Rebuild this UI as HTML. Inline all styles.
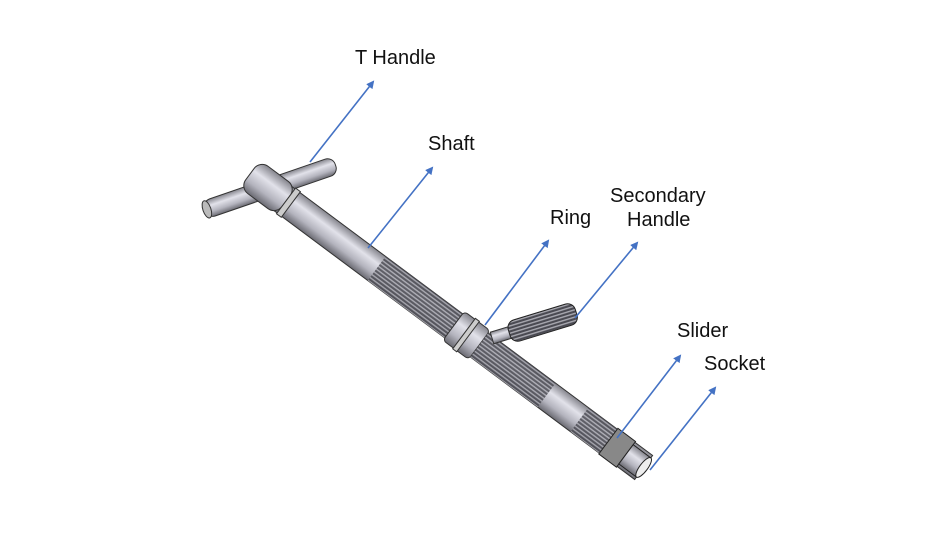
<!DOCTYPE html>
<html><head><style>
body{margin:0;background:#fff;}
svg text{font-family:"Liberation Sans",sans-serif;font-size:20px;fill:#111;}
</style></head><body>
<svg width="939" height="528" viewBox="0 0 939 528" xmlns="http://www.w3.org/2000/svg">
<defs>
<linearGradient id="g" x1="0" y1="0" x2="0" y2="1">
<stop offset="0" stop-color="#85858d"/><stop offset="0.35" stop-color="#e2e2ea"/><stop offset="0.7" stop-color="#b4b4be"/><stop offset="1" stop-color="#6a6a72"/>
</linearGradient>
<pattern id="k" width="3" height="3.5" patternUnits="userSpaceOnUse">
<rect width="3" height="3.5" fill="#4a4a52"/><rect y="0" width="3" height="1.4" fill="#a8a8b0"/>
</pattern>
<marker id="a" markerWidth="8" markerHeight="8" refX="6" refY="4" orient="auto" markerUnits="userSpaceOnUse"><path d="M0,0 L8,4 L0,8 z" fill="#4472C4"/></marker>
</defs>
<g transform="translate(205,210) rotate(-19)">
<rect x="0" y="-9" width="138" height="18" rx="8" fill="url(#g)" stroke="#333" stroke-width="1"/>
<ellipse cx="2" cy="0" rx="4" ry="9" fill="#bbb" stroke="#333"/>
</g>
<g transform="translate(262,183) rotate(36.7)">
<rect x="0" y="-15" width="476" height="30" fill="url(#g)" stroke="#333" stroke-width="1"/>
<rect x="-15" y="-17" width="45" height="34" rx="10" fill="url(#g)" stroke="#333"/>
<rect x="30" y="-16" width="6" height="32" fill="#ccc" stroke="#333"/>
<rect x="143" y="-15" width="96" height="30" fill="url(#k)" opacity="0.85"/>
<rect x="239" y="-18" width="32" height="36" rx="4" fill="url(#g)" stroke="#333"/>
<rect x="252" y="-19" width="5" height="38" fill="#ccc" stroke="#333"/>
<rect x="271" y="-15" width="84" height="30" fill="url(#k)" opacity="0.85"/>
<rect x="396" y="-15" width="36" height="30" fill="url(#k)" opacity="0.85"/>
<rect x="432" y="-16" width="22" height="32" fill="#888" stroke="#222"/>
<rect x="454" y="-12" width="22" height="24" fill="url(#g)" stroke="#222"/>
<ellipse cx="476" cy="0" rx="4" ry="12" fill="#eee" stroke="#222"/>
</g>
<g transform="translate(492,338) rotate(-17)">
<rect x="0" y="-6" width="22" height="12" fill="url(#g)" stroke="#333"/>
<rect x="18" y="-11" width="70" height="22" rx="8" fill="url(#k)" stroke="#222"/>
</g>
<g stroke="#4472C4" stroke-width="1.6" fill="none" marker-end="url(#a)">
<line x1="310" y1="162" x2="373" y2="82"/>
<line x1="368" y1="248" x2="432" y2="168"/>
<line x1="485" y1="325" x2="548" y2="241"/>
<line x1="575" y1="318" x2="637" y2="243"/>
<line x1="617" y1="438" x2="680" y2="356"/>
<line x1="650" y1="470" x2="715" y2="388"/>
</g>
<text x="355" y="64">T Handle</text>
<text x="428" y="150">Shaft</text>
<text x="550" y="224">Ring</text>
<text x="610" y="202">Secondary</text>
<text x="627" y="226">Handle</text>
<text x="677" y="337">Slider</text>
<text x="704" y="370">Socket</text>
</svg>
</body></html>
